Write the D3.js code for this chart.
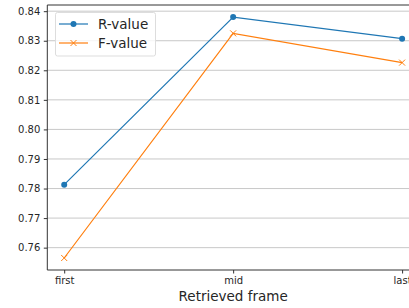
<!DOCTYPE html>
<html>
<head>
<meta charset="utf-8">
<script src="https://cdn.jsdelivr.net/npm/d3@7"></script>
<style>
body { margin: 0; background: #fff; }
text { font-family: "DejaVu Sans", sans-serif; }
</style>
</head>
<body>
<div id="chart"></div>
<script>
// data
var frames = ["first", "mid", "last"];
var rValues = [0.7813, 0.8380, 0.8307];
var fValues = [0.7565, 0.8325, 0.8226];
var yTicks = [0.76, 0.77, 0.78, 0.79, 0.80, 0.81, 0.82, 0.83, 0.84];

var width = 409, height = 308;
// plot box runs off the right edge, like the original figure
// (note: "top" is taken by window.top, so use other names)
var plotLeft = 47.3, plotRight = 419, plotTop = 5, plotBottom = 270;

var svg = d3.select("#chart")
    .append("svg")
    .attr("width", width)
    .attr("height", height);

var x = d3.scalePoint()
    .domain(frames)
    .range([plotLeft + (plotRight - plotLeft) / 22, plotRight - (plotRight - plotLeft) / 22]);

var y = d3.scaleLinear()
    .domain([0.75244, 0.84209])
    .range([plotBottom, plotTop]);

//grid lines
svg.append("g")
    .selectAll("line")
    .data(yTicks)
    .enter()
    .append("line")
    .attr("x1", plotLeft)
    .attr("x2", plotRight)
    .attr("y1", function(d) { return y(d); })
    .attr("y2", function(d) { return y(d); })
    .style("stroke", "#b0b0b0")
    .style("stroke-opacity", 0.7)
    .style("stroke-width", 1);

//axes
var yAxis = svg.append("g")
    .attr("transform", "translate(" + plotLeft + ",0)")
    .call(d3.axisLeft(y).tickValues(yTicks).tickFormat(d3.format(".2f")).tickSize(3.5).tickPadding(3.5));

var xAxis = svg.append("g")
    .attr("transform", "translate(0," + plotBottom + ")")
    .call(d3.axisBottom(x).tickSize(3.5).tickPadding(3.5));

[yAxis, xAxis].forEach(function(a) {
    a.select(".domain").remove();
    a.selectAll("line").style("stroke", "#333");
    a.selectAll("text").style("font-size", "10px").style("fill", "#262626");
});

//spines
svg.append("line").attr("x1", plotLeft).attr("x2", plotLeft).attr("y1", plotTop).attr("y2", plotBottom)
    .style("stroke", "#333").style("stroke-width", 1);
svg.append("line").attr("x1", plotLeft).attr("x2", plotRight).attr("y1", plotBottom).attr("y2", plotBottom)
    .style("stroke", "#333").style("stroke-width", 1);
svg.append("line").attr("x1", plotLeft).attr("x2", plotRight).attr("y1", plotTop).attr("y2", plotTop)
    .style("stroke", "#333").style("stroke-width", 1);

svg.append("text")
    .attr("x", (plotLeft + plotRight) / 2)
    .attr("y", 301)
    .attr("text-anchor", "middle")
    .style("font-size", "13.5px")
    .style("fill", "#262626")
    .text("Retrieved frame");

var line = d3.line()
    .x(function(d, i) { return x(frames[i]); })
    .y(function(d) { return y(d); });

// R-value with dots
svg.append("path")
    .datum(rValues)
    .attr("d", line)
    .style("fill", "none")
    .style("stroke", "#1f77b4")
    .style("stroke-width", 1.2);

svg.append("g")
    .selectAll("circle")
    .data(rValues)
    .enter()
    .append("circle")
    .attr("cx", function(d, i) { return x(frames[i]); })
    .attr("cy", function(d) { return y(d); })
    .attr("r", 3)
    .style("fill", "#1f77b4");

// F-value with crosses
svg.append("path")
    .datum(fValues)
    .attr("d", line)
    .style("fill", "none")
    .style("stroke", "#ff7f0e")
    .style("stroke-width", 1.2);

function cross(g, cx, cy, s, color) {
    g.append("path")
        .attr("d", "M" + (cx - s) + "," + (cy - s) + "L" + (cx + s) + "," + (cy + s) +
            "M" + (cx - s) + "," + (cy + s) + "L" + (cx + s) + "," + (cy - s))
        .style("stroke", color)
        .style("stroke-width", 1);
}

var fMarks = svg.append("g");
fValues.forEach(function(d, i) {
    cross(fMarks, x(frames[i]), y(d), 3, "#ff7f0e");
});

//legend
var legend = svg.append("g");
legend.append("rect")
    .attr("x", 55.5)
    .attr("y", 12.5)
    .attr("width", 100)
    .attr("height", 43.5)
    .attr("rx", 2)
    .style("fill", "#fff")
    .style("fill-opacity", 0.8)
    .style("stroke", "#ddd")
    .style("stroke-width", 1);

var series = [
    { name: "R-value", color: "#1f77b4", y: 24 },
    { name: "F-value", color: "#ff7f0e", y: 43 }
];

series.forEach(function(s, i) {
    legend.append("line")
        .attr("x1", 59).attr("x2", 88)
        .attr("y1", s.y).attr("y2", s.y)
        .style("stroke", s.color)
        .style("stroke-width", 1.2);
    if (i == 0) {
        legend.append("circle").attr("cx", 73.5).attr("cy", s.y).attr("r", 3).style("fill", s.color);
    } else {
        cross(legend, 73.5, s.y, 3, s.color);
    }
    legend.append("text")
        .attr("x", 98)
        .attr("y", s.y)
        .attr("dy", "0.35em")
        .style("font-size", "13.5px")
        .style("fill", "#262626")
        .text(s.name);
});
</script>
</body>
</html>
